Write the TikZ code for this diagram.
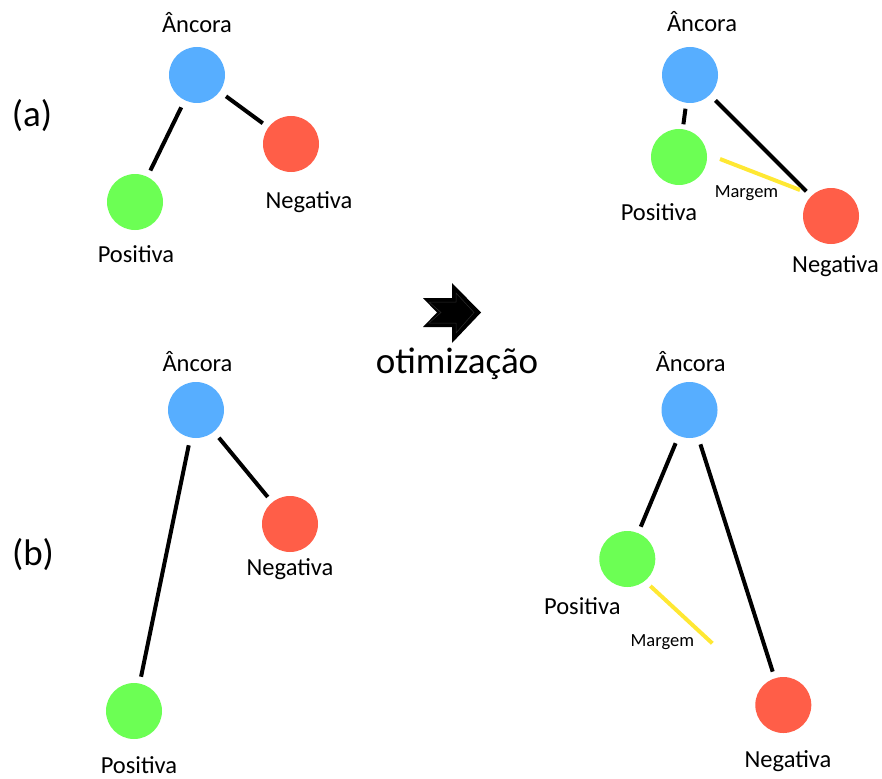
\documentclass[tikz,border=0pt]{standalone}
\usepackage{fontspec}
\setmainfont{Carlito}
\usetikzlibrary{calc}
\definecolor{ancc}{RGB}{87,174,255}
\definecolor{posc}{RGB}{108,255,84}
\definecolor{negc}{RGB}{255,94,72}
\definecolor{margc}{RGB}{255,232,51}
\begin{document}
\begin{tikzpicture}[x=1pt,y=-1pt,
  ball/.style={circle,minimum size=56pt,inner sep=0pt,outer sep=0pt},
  ancball/.style={ball,fill=ancc},
  posball/.style={ball,fill=posc},
  negball/.style={ball,fill=negc},
  lbl/.style={font=\fontsize{24.5}{29}\selectfont,inner sep=0pt,text height=16pt,text depth=0pt},
  mlbl/.style={font=\fontsize{18.5}{22}\selectfont,inner sep=0pt,text height=12pt,text depth=0pt},
  big/.style={font=\fontsize{37}{44}\selectfont,inner sep=0pt},
  link/.style={line width=4pt,shorten <=8pt,shorten >=7pt},
  marg/.style={line width=4pt,draw=margc}]
\useasboundingbox (0,0) rectangle (882,778);

% ---------- (a) left ----------
\node[big] (la) at (32,116) {(a)};
\node[ancball] (aA) at (197,75) {};
\node[posball] (aP) at (135,202) {};
\node[negball] (aN) at (291,144) {};
\node[lbl] (aAl) at (197,25) {Âncora};
\node[lbl] (aPl) at (136,254) {Positiva};
\node[lbl] (aNl) at (309,200.5) {Negativa};
\draw[link] (aA) -- (aP);
\draw[link] (aA) -- (aN);

% ---------- (a) right ----------
\node[ancball] (bA) at (690,75) {};
\node[posball] (bP) at (679,157) {};
\node[negball] (bN) at (831,216) {};
\node[lbl] (bAl) at (702,24) {Âncora};
\node[lbl] (bPl) at (659,212.5) {Positiva};
\node[lbl] (bNl) at (835.5,264) {Negativa};
\draw[link,shorten <=6pt,shorten >=5pt] (bA) -- (bP);
\draw[link] (bA) -- (bN);
\draw[marg] ($(bP)+(41,2)$) -- ($(bN)+(-31,-26)$);
\node[mlbl] (bM) at (746.5,191) {Margem};

% ---------- arrow ----------
\fill[black] (423,298) -- (452,298) -- (452,283) -- (481,312.5) -- (452,343)
  -- (452,327) -- (423,327) -- (437,312.5) -- cycle;
\draw[gray!35!black,line width=0.5pt] (429,302) -- (456,302) -- (456,293) -- (474,312.5)
  -- (456,333) -- (456,323) -- (429,323) -- (441,312.5) -- cycle;
\node[big,anchor=base] (opt) at (457,373.5) {otimização};

% ---------- (b) left ----------
\node[big] (lb) at (33,555) {(b)};
\node[ancball] (cA) at (196,410) {};
\node[negball] (cN) at (290,524) {};
\node[posball] (cP) at (134,711) {};
\node[lbl] (cAl) at (197.5,363) {Âncora};
\node[lbl] (cNl) at (290,567.5) {Negativa};
\node[lbl] (cPl) at (139,765) {Positiva};
\draw[link] (cA) -- (cP);
\draw[link] (cA) -- (cN);

% ---------- (b) right ----------
\node[ancball] (dA) at (689.5,410) {};
\node[posball] (dP) at (627.3,559) {};
\node[negball] (dN) at (783.3,705) {};
\node[lbl] (dAl) at (690.7,363) {Âncora};
\node[lbl] (dPl) at (582.3,606.5) {Positiva};
\node[lbl] (dNl) at (788,759) {Negativa};
\draw[link] (dA) -- (dP);
\draw[link] (dA) -- (dN);
\coordinate (dMend) at (712.3,643.3);
\draw[marg] ($(dP)+(23,27)$) -- (dMend);
\node[mlbl] (dM) at (662.3,640) {Margem};
\end{tikzpicture}
\end{document}
